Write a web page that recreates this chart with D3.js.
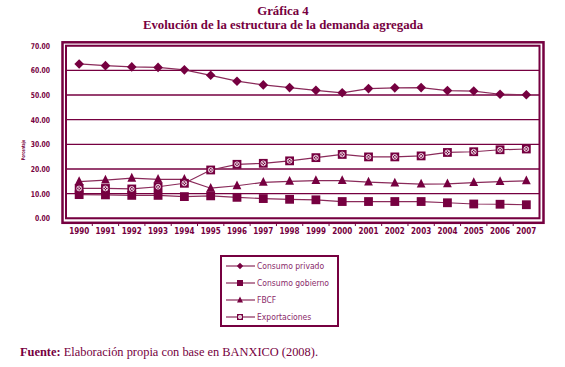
<!DOCTYPE html>
<html>
<head>
<meta charset="utf-8">
<script src="https://cdn.jsdelivr.net/npm/d3@7"></script>
<style>
  body { margin: 0; background: #fff; }
  svg { display: block; }
</style>
</head>
<body>
<svg id="chart" width="565" height="367"></svg>
<script>
const years = ["1990","1991","1992","1993","1994","1995","1996","1997","1998","1999",
               "2000","2001","2002","2003","2004","2005","2006","2007"];
const consumoPrivado  = [62.6, 61.9, 61.4, 61.2, 60.2, 58.0, 55.6, 54.1, 53.0, 51.9, 50.9, 52.6, 52.9, 53.0, 51.8, 51.6, 50.3, 50.1];
const consumoGobierno = [9.6, 9.5, 9.3, 9.3, 8.8, 9.1, 8.5, 8.0, 7.7, 7.5, 6.8, 6.8, 6.8, 6.8, 6.3, 5.8, 5.7, 5.5];
const fbcf            = [14.9, 15.5, 16.3, 15.8, 15.8, 12.2, 13.2, 14.6, 15.0, 15.3, 15.3, 14.7, 14.3, 13.9, 14.0, 14.5, 14.9, 15.2];
const exportaciones   = [12.1, 12.1, 11.9, 12.8, 14.2, 19.6, 21.9, 22.3, 23.3, 24.6, 25.9, 24.9, 24.9, 25.3, 26.7, 27.0, 27.8, 28.1];
const yTicks = [0, 10, 20, 30, 40, 50, 60, 70];

const series = [
  { name: "Consumo privado", values: consumoPrivado, marker: "diamond" },
  { name: "Consumo gobierno", values: consumoGobierno, marker: "square" },
  { name: "FBCF", values: fbcf, marker: "triangle" },
  { name: "Exportaciones", values: exportaciones, marker: "xsquare" }
];

const maroon = "#760040";
const lineCol = "#8a2a5a";
const svg = d3.select("#chart");

// titles
svg.append("text").attr("x", 283).attr("y", 15).attr("text-anchor", "middle")
  .attr("font-family", "Liberation Serif").attr("font-weight", "bold").attr("font-size", 12.8)
  .attr("fill", maroon).text("Gráfica 4");
svg.append("text").attr("x", 283).attr("y", 29).attr("text-anchor", "middle")
  .attr("font-family", "Liberation Serif").attr("font-weight", "bold").attr("font-size", 12.8)
  .attr("fill", maroon).text("Evolución de la estructura de la demanda agregada");

const x = d3.scaleBand().domain(years).range([66, 539.5]);
const y = d3.scaleLinear().domain([0, 70]).range([218.3, 45.7]);

// gridlines
svg.append("g").selectAll("line").data(yTicks).join("line")
  .attr("x1", 66).attr("x2", 539.5)
  .attr("y1", d => y(d)).attr("y2", d => y(d))
  .attr("stroke", maroon).attr("stroke-width", 1.3);

// double frame
svg.append("rect").attr("x", 66).attr("y", y(70)).attr("width", 473.5).attr("height", y(0) - y(70))
  .attr("fill", "none").attr("stroke", maroon).attr("stroke-width", 2);
svg.append("rect").attr("x", 62.5).attr("y", 42.3).attr("width", 481).attr("height", 180.5)
  .attr("fill", "none").attr("stroke", maroon).attr("stroke-width", 2.5);

// x ticks between categories
svg.append("g").selectAll("line").data(years.slice(1)).join("line")
  .attr("x1", d => x(d)).attr("x2", d => x(d))
  .attr("y1", 222.8).attr("y2", 226)
  .attr("stroke", maroon).attr("stroke-width", 1);

const tickFont = "DejaVu Sans Condensed";
svg.append("g").selectAll("text").data(yTicks).join("text")
  .attr("x", 50).attr("y", d => y(d) + 3)
  .attr("text-anchor", "end")
  .attr("font-family", tickFont).attr("font-weight", "bold").attr("font-size", 8)
  .attr("fill", maroon)
  .attr("transform", "translate(50,0) scale(0.85,1) translate(-50,0)")
  .text(d => d.toFixed(2));

svg.append("g").selectAll("text").data(years).join("text")
  .attr("x", d => x(d) + x.bandwidth() / 2).attr("y", 234)
  .attr("text-anchor", "middle")
  .attr("font-family", tickFont).attr("font-weight", "bold").attr("font-size", 8)
  .attr("fill", maroon)
  .text(d => d);

svg.append("text").attr("transform", "translate(25,150) rotate(-90) scale(0.75,1)")
  .attr("text-anchor", "middle")
  .attr("font-family", tickFont).attr("font-weight", "bold").attr("font-size", 5)
  .attr("fill", maroon).text("Porcentaje");

function drawMarker(g, type, cx, cy, s) {
  if (type === "diamond") {
    g.append("path").attr("d", `M${cx},${cy - s}L${cx + s},${cy}L${cx},${cy + s}L${cx - s},${cy}Z`)
      .attr("fill", maroon);
  } else if (type === "square") {
    g.append("rect").attr("x", cx - s).attr("y", cy - s).attr("width", 2 * s).attr("height", 2 * s)
      .attr("fill", maroon);
  } else if (type === "triangle") {
    g.append("path").attr("d", `M${cx},${cy - s * 1.2}L${cx + s},${cy + s * 0.8}L${cx - s},${cy + s * 0.8}Z`)
      .attr("fill", maroon);
  } else {
    g.append("rect").attr("x", cx - s).attr("y", cy - s).attr("width", 2 * s).attr("height", 2 * s)
      .attr("fill", maroon);
    g.append("circle").attr("cx", cx).attr("cy", cy).attr("r", s * 0.55)
      .attr("fill", "none").attr("stroke", "#fff").attr("stroke-width", 0.8);
    const k = s * 0.4;
    g.append("path").attr("d", `M${cx - k},${cy - k}L${cx + k},${cy + k}M${cx + k},${cy - k}L${cx - k},${cy + k}`)
      .attr("stroke", "#fff").attr("stroke-width", 0.8);
  }
}

const line = d3.line().x((d, i) => x(years[i]) + x.bandwidth() / 2).y(d => y(d));

series.forEach(s => {
  const g = svg.append("g");
  g.append("path").datum(s.values).attr("d", line)
    .attr("fill", "none").attr("stroke", lineCol).attr("stroke-width", 1.2);
  s.values.forEach((v, i) => {
    drawMarker(g, s.marker, x(years[i]) + x.bandwidth() / 2, y(v), s.marker === "diamond" ? 4.8 : 4.4);
  });
});

// legend
const lg = svg.append("g");
lg.append("rect").attr("x", 221).attr("y", 256).attr("width", 117).attr("height", 70)
  .attr("fill", "#fff").attr("stroke", maroon).attr("stroke-width", 2);
series.forEach((s, i) => {
  const ly = 266 + i * 17;
  lg.append("line").attr("x1", 226).attr("x2", 255).attr("y1", ly).attr("y2", ly)
    .attr("stroke", lineCol).attr("stroke-width", 1.2);
  drawMarker(lg, s.marker, 240, ly, s.marker === "diamond" ? 3.2 : 3);
  lg.append("text").attr("x", 257).attr("y", ly + 3)
    .attr("font-family", "DejaVu Sans Condensed").attr("font-size", 8.5)
    .attr("fill", "#8a2a6a").text(s.name);
});

// source
const src = svg.append("text").attr("x", 20).attr("y", 356)
  .attr("font-family", "Liberation Serif").attr("font-size", 12.4).attr("fill", maroon);
src.append("tspan").attr("font-weight", "bold").text("Fuente:");
src.append("tspan").text(" Elaboración propia con base en BANXICO (2008).");
</script>
</body>
</html>
